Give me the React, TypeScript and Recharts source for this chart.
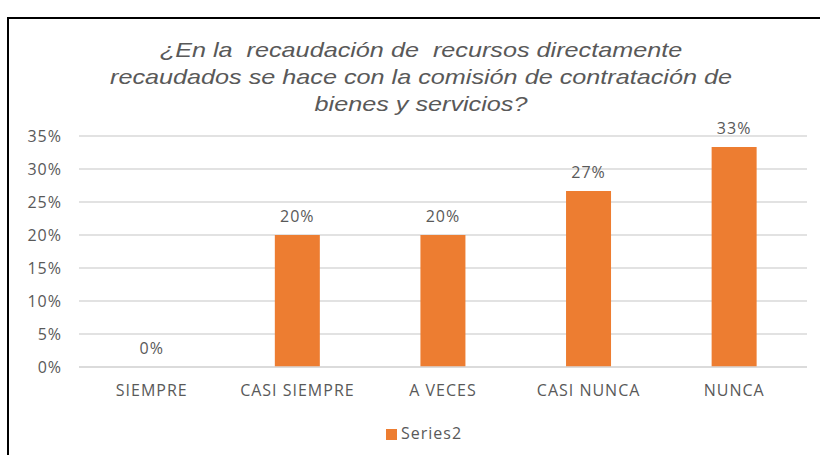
import { Bar, BarChart, CartesianGrid, LabelList, Legend, XAxis, YAxis } from "recharts";

const categories = ["SIEMPRE", "CASI SIEMPRE", "A VECES", "CASI NUNCA", "NUNCA"];
const series2 = [0, 20, 20, 26.67, 33.33];
const yTicks = [0, 5, 10, 15, 20, 25, 30, 35];
const titleLines = [
  "¿En la  recaudación de  recursos directamente",
  "recaudados se hace con la comisión de contratación de",
  "bienes y servicios?",
];

const data = categories.map((name, i) => ({ name, Series2: series2[i] }));

const gray = "#595959";
const font = "'Open Sans', 'Liberation Sans', sans-serif";
const tickStyle = { fill: gray, fontSize: 16, fontFamily: font, letterSpacing: 1 };

export default function App() {
  return (
    <div
      style={{
        position: "absolute",
        left: 0,
        top: 0,
        width: 820,
        height: 455,
        overflow: "hidden",
        background: "#fff",
      }}
    >
      <div
        style={{
          position: "absolute",
          left: 7,
          top: 17,
          width: 830,
          height: 460,
          border: "2px solid #000",
          boxSizing: "border-box",
        }}
      />
      <div
        style={{
          position: "absolute",
          left: 0,
          top: 36,
          width: 842,
          textAlign: "center",
          fontFamily: "'Liberation Sans', Arial, sans-serif",
          fontStyle: "italic",
          fontSize: 21,
          lineHeight: "27px",
          color: gray,
          whiteSpace: "pre",
          transform: "scaleX(1.2)",
          transformOrigin: "421px 0",
        }}
      >
        {titleLines.map((l) => (
          <div key={l}>{l}</div>
        ))}
      </div>
      <div style={{ position: "absolute", left: 0, top: 0 }}>
        <BarChart
          width={820}
          height={455}
          data={data}
          margin={{ top: 136, right: 13, left: 0, bottom: 11 }}
          barCategoryGap="34.5%"
        >
          <CartesianGrid vertical={false} stroke="#d9d9d9" strokeWidth={1.5} />
          <XAxis
            dataKey="name"
            axisLine={{ stroke: "#d9d9d9", strokeWidth: 1.5 }}
            tickLine={false}
            tickSize={0}
            tickMargin={18}
            height={55}
            interval={0}
            tick={tickStyle}
          />
          <YAxis
            domain={[0, 35]}
            ticks={yTicks}
            width={79}
            axisLine={false}
            tickLine={false}
            tickSize={0}
            tickMargin={17}
            tickFormatter={(v: number) => `${v}%`}
            tick={tickStyle}
          />
          <Legend
            verticalAlign="bottom"
            align="left"
            iconType="square"
            iconSize={11}
            wrapperStyle={{ left: 386, fontFamily: font, fontSize: 16, letterSpacing: 1, color: gray }}
            formatter={(value: string) => <span style={{ color: gray }}>{value}</span>}
          />
          <Bar dataKey="Series2" fill="#ed7d31" minPointSize={0.01} isAnimationActive={false}>
            <LabelList
              dataKey="Series2"
              position="top"
              offset={13}
              formatter={(v: number) => `${Math.round(v)}%`}
              style={{ fill: gray, fontSize: 16, fontFamily: font, letterSpacing: 1 }}
            />
          </Bar>
        </BarChart>
      </div>
    </div>
  );
}
